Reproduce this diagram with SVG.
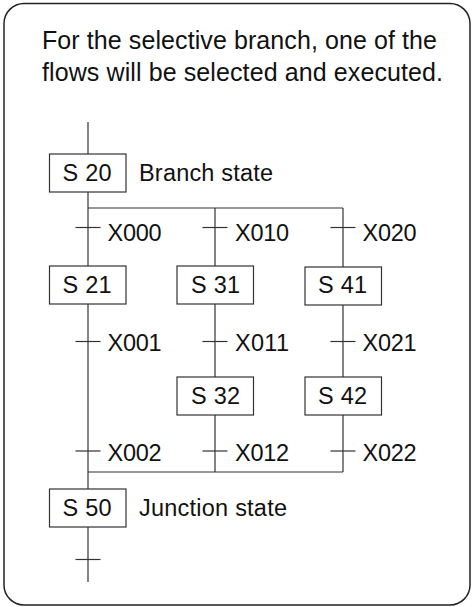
<svg xmlns="http://www.w3.org/2000/svg" width="473" height="607" viewBox="0 0 473 607">
<style>
.frame{fill:#fff;stroke:#222;stroke-width:1.5}
.box{fill:#fff;stroke:#333;stroke-width:1.2}
.ln{stroke:#333;stroke-width:1.2;fill:none}
text{font-family:"Liberation Sans",Arial,sans-serif;fill:#111}
.t{font-size:25px}
.l{font-size:23.5px}
</style>
<rect class="frame" x="4" y="3.5" width="466" height="601.5" rx="20" ry="20"/>
<g id="title">
<text class="t" x="42" y="49" textLength="395" lengthAdjust="spacing">For the selective branch, one of the</text>
<text class="t" x="42" y="81" textLength="401" lengthAdjust="spacing">flows will be selected and executed.</text>
</g>
<g id="connectors">
<line class="ln" x1="88" y1="122" x2="88" y2="154"/>
<line class="ln" x1="88" y1="192" x2="88" y2="266"/>
<line class="ln" x1="88" y1="208" x2="343" y2="208"/>
<line class="ln" x1="215" y1="208" x2="215" y2="266"/>
<line class="ln" x1="343" y1="208" x2="343" y2="267"/>
<line class="ln" x1="88" y1="304" x2="88" y2="489"/>
<line class="ln" x1="215" y1="304" x2="215" y2="377"/>
<line class="ln" x1="343" y1="305" x2="343" y2="377"/>
<line class="ln" x1="215" y1="415" x2="215" y2="472"/>
<line class="ln" x1="343" y1="415" x2="343" y2="472"/>
<line class="ln" x1="88" y1="472" x2="343" y2="472"/>
<line class="ln" x1="88" y1="527" x2="88" y2="582"/>
<line class="ln" x1="75.5" y1="227.5" x2="100.5" y2="227.5"/>
<line class="ln" x1="202.5" y1="227.5" x2="227.5" y2="227.5"/>
<line class="ln" x1="330.5" y1="227.5" x2="355.5" y2="227.5"/>
<line class="ln" x1="75.5" y1="341.5" x2="100.5" y2="341.5"/>
<line class="ln" x1="202.5" y1="341.5" x2="227.5" y2="341.5"/>
<line class="ln" x1="330.5" y1="341.5" x2="355.5" y2="341.5"/>
<line class="ln" x1="75.5" y1="451" x2="100.5" y2="451"/>
<line class="ln" x1="202.5" y1="451" x2="227.5" y2="451"/>
<line class="ln" x1="330.5" y1="451" x2="355.5" y2="451"/>
<line class="ln" x1="75.5" y1="559.5" x2="100.5" y2="559.5"/>
</g>
<g id="labels">
<text class="l" x="107.5" y="241" textLength="54" lengthAdjust="spacing">X000</text>
<text class="l" x="235" y="241" textLength="54" lengthAdjust="spacing">X010</text>
<text class="l" x="362.5" y="241" textLength="54" lengthAdjust="spacing">X020</text>
<text class="l" x="107.5" y="351" textLength="54" lengthAdjust="spacing">X001</text>
<text class="l" x="235" y="351" textLength="54" lengthAdjust="spacing">X011</text>
<text class="l" x="362.5" y="351" textLength="54" lengthAdjust="spacing">X021</text>
<text class="l" x="107.5" y="460.5" textLength="54" lengthAdjust="spacing">X002</text>
<text class="l" x="235" y="460.5" textLength="54" lengthAdjust="spacing">X012</text>
<text class="l" x="362.5" y="460.5" textLength="54" lengthAdjust="spacing">X022</text>
</g>
<g id="S20">
<rect class="box" x="49.5" y="154" width="76.5" height="38"/>
<text class="l" x="62.5" y="181" textLength="49" lengthAdjust="spacing">S 20</text>
<text class="l" x="139" y="181" textLength="134" lengthAdjust="spacing">Branch state</text>
</g>
<g id="S21">
<rect class="box" x="49.5" y="266" width="76.5" height="38"/>
<text class="l" x="62.5" y="292.5" textLength="49" lengthAdjust="spacing">S 21</text>
</g>
<g id="S31">
<rect class="box" x="177" y="266" width="76.5" height="38"/>
<text class="l" x="191" y="292.5" textLength="49" lengthAdjust="spacing">S 31</text>
</g>
<g id="S41">
<rect class="box" x="305" y="267" width="76.5" height="38"/>
<text class="l" x="318" y="293" textLength="49" lengthAdjust="spacing">S 41</text>
</g>
<g id="S32">
<rect class="box" x="177" y="377" width="76.5" height="38"/>
<text class="l" x="191" y="404" textLength="49" lengthAdjust="spacing">S 32</text>
</g>
<g id="S42">
<rect class="box" x="305" y="377" width="76.5" height="38"/>
<text class="l" x="318" y="404" textLength="49" lengthAdjust="spacing">S 42</text>
</g>
<g id="S50">
<rect class="box" x="49.5" y="489" width="76.5" height="38"/>
<text class="l" x="62.5" y="515.5" textLength="49" lengthAdjust="spacing">S 50</text>
<text class="l" x="139" y="515.5" textLength="148" lengthAdjust="spacing">Junction state</text>
</g>
</svg>
